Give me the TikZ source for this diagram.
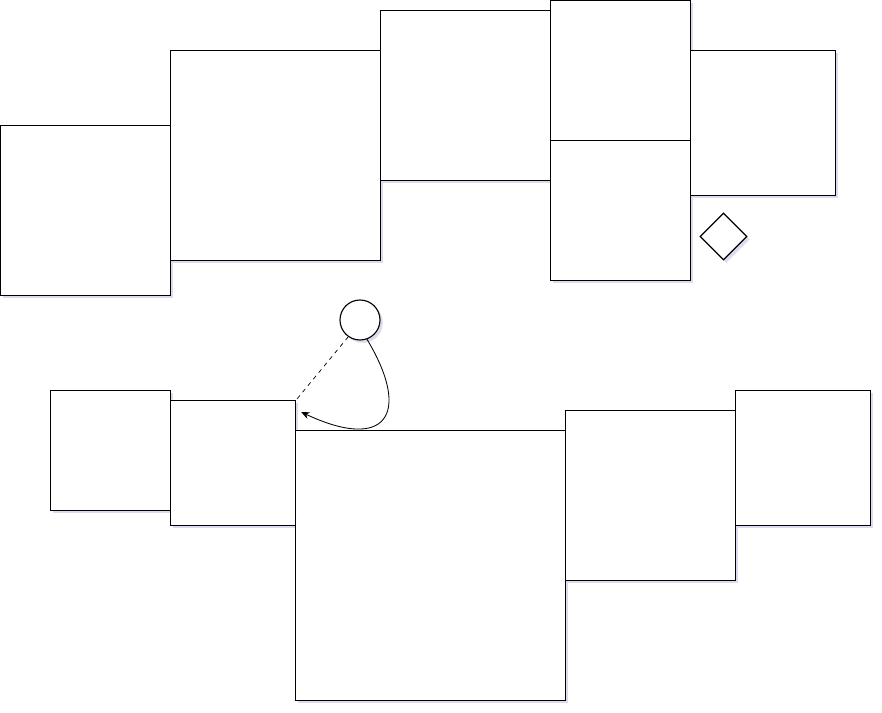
\documentclass[tikz,border=0pt]{standalone}
\usetikzlibrary{shapes.geometric,shadows,arrows.meta,calc}

\newcommand{\pxu}{0.025cm}

\tikzset{
  blk/.style={draw, fill=white, line width=0.8pt, anchor=north west, inner sep=0pt,
    drop shadow={shadow xshift=2pt, shadow yshift=-2pt, opacity=0.2, fill=blue!40!gray}},
  sz/.style 2 args={minimum width=#1*\pxu, minimum height=#2*\pxu},
}

\begin{document}
\begin{tikzpicture}[x=\pxu, y=-\pxu]

\useasboundingbox (0,0) rectangle (882,712);

% Upper row of boxes
\node[blk, sz={170}{170}] (b1) at (0,125) {};
\node[blk, sz={210}{210}] (b2) at (170,50) {};
\node[blk, sz={170}{170}] (b3) at (380,10) {};
\node[blk, sz={140}{140}] (b4) at (550,0) {};
\node[blk, sz={140}{140}] (b5) at (550,140) {};
\node[blk, sz={145}{145}] (b6) at (690,50) {};

% Small diamond
\node[blk, diamond, anchor=center, minimum size=47*\pxu] (dia) at (723.5,236.5) {};

% Lower row of boxes
\node[blk, sz={120}{120}] (c1) at (50,390) {};
\node[blk, sz={125}{125}] (c2) at (170,400) {};
\node[blk, sz={270}{270}] (c3) at (295,430) {};
\node[blk, sz={170}{170}] (c4) at (565,410) {};
\node[blk, sz={135}{135}] (c5) at (735,390) {};

% Circle with its two links
\node[blk, circle, anchor=center, minimum size=40*\pxu] (circ) at (360,320) {};
\coordinate (tip) at ($(c2.north east)+(5,12)$);

\draw[dashed, line width=0.5pt] (circ.235) -- (c2.north east);
\draw[-{Stealth[length=6pt,width=5pt]}, line width=0.6pt]
  (circ.-70) .. controls +(45,75) and +(85,40) .. (tip);

\end{tikzpicture}
\end{document}
